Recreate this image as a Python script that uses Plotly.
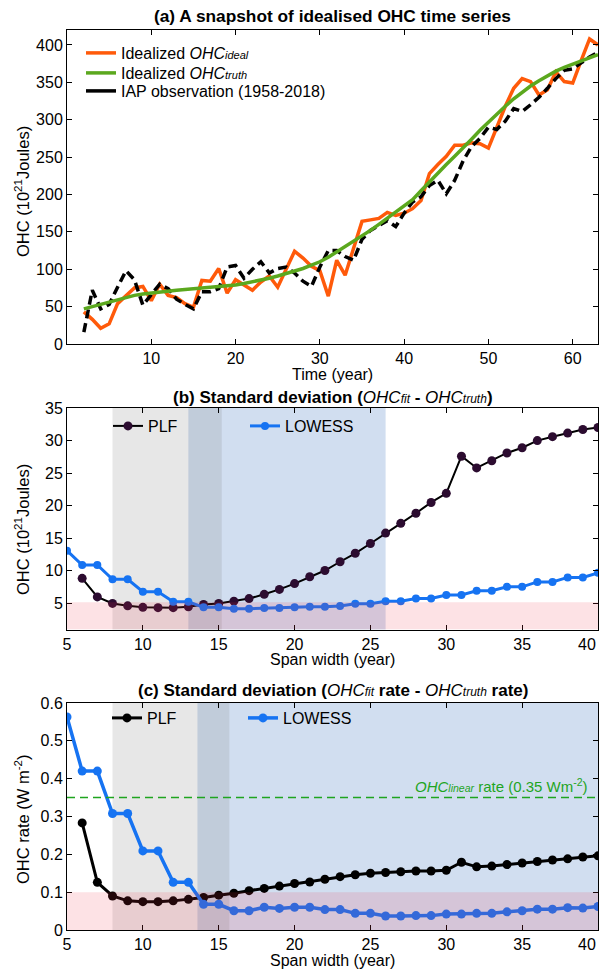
import plotly.graph_objects as go

# ---------------- data ----------------
# Panel (a): idealised OHC time series (10^21 J)
years = list(range(2, 64))
ohc_ideal = [43, 33, 21, 27, 54, 65, 75, 77, 58, 80,
             65, 62, 54, 49, 85, 84, 101, 68, 86, 79,
             72, 83, 91, 76, 101, 124, 115, 104, 98, 64,
             112, 92, 128, 164, 166, 168, 176, 172, 175, 181,
             192, 228, 240, 251, 266, 266, 269, 268, 262, 290,
             318, 342, 355, 351, 333, 340, 364, 351, 349, 379,
             408, 400]
ohc_truth = [47, 50, 53, 56, 60, 63, 65, 67, 68.5, 70,
             71, 72, 73, 74, 74.5, 75.5, 76.5, 77.5, 79, 81,
             83, 85.5, 88, 91, 94, 97.5, 101, 105.5, 110, 116,
             123, 130, 137, 144.5, 152, 160, 168, 176, 184, 193,
             205, 217, 229, 240, 251, 262, 274, 286, 297, 308,
             318, 328, 337, 345, 352, 359, 365, 370, 374, 378,
             382, 387]
ohc_iap = [16, 72, 47, 53, 76, 98, 86, 52, 66, 80,
           74, 60, 53, 47, 70, 70, 74, 103, 105, 88,
           100, 110, 95, 101, 103, 95, 84, 77, 103, 125,
           125, 117, 112, 140, 152, 158, 165, 157, 175, 190,
           197, 212, 219, 201, 219, 245, 264, 275, 290, 287,
           298, 315, 311, 320, 330, 342, 355, 366, 368, 376,
           384, 390]

# Panel (b): std of OHC_fit - OHC_truth vs span width
span_b_plf = list(range(6, 41))
std_b_plf = [8.85, 6.0, 5.0, 4.63, 4.4, 4.35, 4.35, 4.5, 4.85, 5.0,
             5.35, 5.75, 6.4, 7.15, 8.05, 9.1, 10.05, 11.4, 12.7, 14.2,
             15.8, 17.3, 18.85, 20.5, 21.9, 27.6, 25.8, 26.9, 28.1, 28.9,
             30.0, 30.6, 31.15, 31.7, 32.0]
span_b_lowess = list(range(5, 41))
std_b_lowess = [13.1, 10.9, 10.9, 8.7, 8.7, 6.8, 6.8, 5.25, 5.25, 4.4,
                4.4, 4.2, 4.2, 4.3, 4.3, 4.4, 4.5, 4.5, 4.6, 4.95,
                4.95, 5.35, 5.35, 5.75, 5.75, 6.3, 6.3, 6.95, 6.95, 7.55,
                7.55, 8.3, 8.3, 9.0, 9.0, 9.7]

# Panel (c): std of OHC_fit rate - OHC_truth rate vs span width
span_c_plf = list(range(6, 41))
std_c_plf = [0.283, 0.126, 0.09, 0.077, 0.075, 0.075, 0.077, 0.081, 0.086, 0.092,
             0.097, 0.104, 0.11, 0.116, 0.123, 0.127, 0.134, 0.141, 0.146, 0.15,
             0.152, 0.154, 0.156, 0.156, 0.158, 0.179, 0.167, 0.169, 0.173, 0.177,
             0.181, 0.185, 0.188, 0.193, 0.196]
span_c_lowess = list(range(5, 41))
std_c_lowess = [0.563, 0.42, 0.42, 0.308, 0.308, 0.209, 0.209, 0.126, 0.126, 0.068,
                0.068, 0.051, 0.051, 0.06, 0.057, 0.06, 0.06, 0.054, 0.054, 0.044,
                0.044, 0.037, 0.037, 0.038, 0.038, 0.042, 0.042, 0.044, 0.044, 0.048,
                0.051, 0.055, 0.055, 0.059, 0.058, 0.062]
linear_rate = 0.35

# tick labels
span_ticks = [5, 10, 15, 20, 25, 30, 35, 40]
span_ticktext = ['5', '10', '15', '20', '25', '30', '35', '']   # last label drawn shifted (fits in page)
last_span_label = '40'

# shaded ranges
b_gray = (8, 15.2)
b_blue = (13, 26)
b_pink = 5.2
c_gray = (8, 15.7)
c_blue = (13.6, 40)
c_pink = 0.1

# ---------------- styling ----------------
ORANGE = '#FF5A0A'
GREEN = '#5BA81E'
BLUE = '#1673F2'
PURPLE = '#2C0C30'
FONT = 'Liberation Sans, Arial, Helvetica, sans-serif'
W, H = 605, 969
ML, MR, MT, MB = 67, 7, 30, 39
PH = H - MT - MB
PW = W - ML - MR
TICK = 16


def py(p):
    return (H - MB - p) / PH


def pxx(p):
    return (p - ML) / PW


def sm(s, size=11):
    return f"<span style='font-size:{size}px'>{s}</span>"


fig = go.Figure()

# ---- panel (a)
fig.add_trace(go.Scatter(x=years, y=ohc_ideal, mode='lines',
                         line=dict(color=ORANGE, width=3.5),
                         name="Idealized <i>OHC" + sm('ideal') + "</i>",
                         legend='legend', xaxis='x', yaxis='y'))
fig.add_trace(go.Scatter(x=years, y=ohc_iap, mode='lines',
                         line=dict(color='black', width=3.5, dash='9px,5px'),
                         showlegend=False, xaxis='x', yaxis='y'))
fig.add_trace(go.Scatter(x=years, y=ohc_truth, mode='lines',
                         line=dict(color=GREEN, width=3.5),
                         name="Idealized <i>OHC" + sm('truth') + "</i>",
                         legend='legend6', xaxis='x', yaxis='y'))
fig.add_trace(go.Scatter(x=[None], y=[None], mode='lines',
                         line=dict(color='black', width=3.5),
                         name='IAP observation (1958-2018)',
                         legend='legend7', xaxis='x', yaxis='y'))

# ---- panel (b)
fig.add_trace(go.Scatter(x=span_b_plf, y=std_b_plf, mode='lines+markers',
                         line=dict(color='black', width=2),
                         marker=dict(color=PURPLE, size=9),
                         name='PLF', legend='legend2', xaxis='x2', yaxis='y2'))
fig.add_trace(go.Scatter(x=span_b_lowess, y=std_b_lowess, mode='lines+markers',
                         line=dict(color=BLUE, width=3),
                         marker=dict(color=BLUE, size=8),
                         name='LOWESS', legend='legend3', xaxis='x2', yaxis='y2'))

# ---- panel (c)
fig.add_trace(go.Scatter(x=span_c_plf, y=std_c_plf, mode='lines+markers',
                         line=dict(color='black', width=3),
                         marker=dict(color='black', size=9),
                         name='PLF', legend='legend4', xaxis='x3', yaxis='y3'))
fig.add_trace(go.Scatter(x=span_c_lowess, y=std_c_lowess, mode='lines+markers',
                         line=dict(color=BLUE, width=3.5),
                         marker=dict(color=BLUE, size=9),
                         name='LOWESS', legend='legend5', xaxis='x3', yaxis='y3'))

# ---------------- shapes ----------------
GRAY_FILL = 'rgba(120,120,120,0.18)'
BLUE_FILL = 'rgba(70,125,195,0.25)'
PINK_FILL = 'rgba(240,50,70,0.14)'
shapes = [
    dict(type='rect', xref='x2', yref='y2 domain', x0=b_blue[0], x1=b_blue[1], y0=0, y1=1,
         fillcolor=BLUE_FILL, line=dict(width=0), layer='below'),
    dict(type='rect', xref='x2', yref='y2 domain', x0=b_gray[0], x1=b_gray[1], y0=0, y1=1,
         fillcolor=GRAY_FILL, line=dict(width=0), layer='below'),
    dict(type='rect', xref='x2 domain', yref='y2', x0=0, x1=1, y0=1, y1=b_pink,
         fillcolor=PINK_FILL, line=dict(width=0), layer='above'),
    dict(type='rect', xref='x3', yref='y3 domain', x0=c_blue[0], x1=c_blue[1], y0=0, y1=1,
         fillcolor=BLUE_FILL, line=dict(width=0), layer='below'),
    dict(type='rect', xref='x3', yref='y3 domain', x0=c_gray[0], x1=c_gray[1], y0=0, y1=1,
         fillcolor=GRAY_FILL, line=dict(width=0), layer='below'),
    dict(type='rect', xref='x3 domain', yref='y3', x0=0, x1=1, y0=0, y1=c_pink,
         fillcolor=PINK_FILL, line=dict(width=0), layer='above'),
    dict(type='line', xref='x3 domain', yref='y3', x0=0, x1=1, y0=linear_rate, y1=linear_rate,
         line=dict(color='#1FA51F', width=1.5, dash='8px,5px'), layer='above'),
]

# ---------------- annotations ----------------
def ann(text, x, y, size=17, angle=0, xanchor='center', color='black', xref='paper'):
    return dict(text=text, x=x, y=y, xref=xref, yref='paper', showarrow=False,
                xanchor=xanchor, yanchor='middle', textangle=angle,
                font=dict(family=FONT, size=size, color=color))


annotations = [
    ann('<b>(a) A snapshot of idealised OHC time series</b>', 0.5, py(16), size=17.3),
    ann("<b>(b) Standard deviation (</b><i>OHC" + sm('fit', 12) + "</i><b> - </b><i>OHC"
        + sm('truth', 12) + "</i><b>)</b>", 0.5, py(397)),
    ann("<b>(c) Standard deviation (</b><i>OHC" + sm('fit', 12) + "</i><b> rate - </b><i>OHC"
        + sm('truth', 12) + "</i><b> rate)</b>", 0.5, py(690)),
    ann('Time (year)', 0.5, py(374), size=16),
    ann('Span width (year)', 0.5, py(659), size=16),
    ann('Span width (year)', 0.5, py(960), size=16),
    ann('OHC (10<sup>21</sup>Joules)', pxx(22), py(192), size=16.5, angle=-90),
    ann('OHC (10<sup>21</sup>Joules)', pxx(22), py(530), size=16.5, angle=-90),
    ann('OHC rate (W m<sup>-2</sup>)', pxx(22), py(820), size=16.5, angle=-90),
    ann("<i>OHC" + sm('linear', 10.5) + "</i> rate (0.35 Wm<sup>-2</sup>)", pxx(590), py(785),
        size=15, xanchor='right', color='#1FA51F'),
    ann(last_span_label, span_ticks[-1], py(644), size=TICK, xanchor='right', xref='x2'),
    ann(last_span_label, span_ticks[-1], py(944), size=TICK, xanchor='right', xref='x3'),
]

# ---------------- axes ----------------
def axis(**kw):
    base = dict(showline=True, linecolor='black', linewidth=1, mirror='ticks',
                ticks='inside', ticklen=5, tickwidth=1, tickcolor='black',
                showgrid=False, zeroline=False, ticklabeloverflow='allow',
                automargin=False,
                tickfont=dict(family=FONT, size=TICK, color='black'))
    base.update(kw)
    return base


def legend(x, y):
    return dict(x=x, y=y, xanchor='left', yanchor='top', bgcolor='rgba(0,0,0,0)',
                font=dict(family=FONT, size=16, color='black'), tracegroupgap=0)


fig.update_layout(
    width=W, height=H,
    margin=dict(l=ML, r=MR, t=MT, b=MB, autoexpand=False),
    paper_bgcolor='white', plot_bgcolor='white',
    font=dict(family=FONT, size=16, color='black'),
    xaxis=axis(domain=[0, 1], anchor='y', range=[0, 63], tickvals=[10, 20, 30, 40, 50, 60]),
    yaxis=axis(domain=[py(344), 1], anchor='x', range=[0, 420], tickvals=list(range(0, 401, 50))),
    xaxis2=axis(domain=[0, 1], anchor='y2', range=[5, 40], tickvals=span_ticks, ticktext=span_ticktext),
    yaxis2=axis(domain=[py(629.5), py(408)], anchor='x2', range=[1, 35], tickvals=list(range(5, 36, 5))),
    xaxis3=axis(domain=[0, 1], anchor='y3', range=[5, 40], tickvals=span_ticks, ticktext=span_ticktext),
    yaxis3=axis(domain=[0, py(703)], anchor='x3', range=[0, 0.6],
                tickvals=[0, 0.1, 0.2, 0.3, 0.4, 0.5, 0.6],
                ticktext=['0', '0.1', '0.2', '0.3', '0.4', '0.5', '0.6']),
    legend=legend(pxx(81), py(36)),
    legend6=legend(pxx(81), py(56)),
    legend7=legend(pxx(81), py(74)),
    legend2=legend(pxx(108), py(409)),
    legend3=legend(pxx(245), py(409)),
    legend4=legend(pxx(107), py(701)),
    legend5=legend(pxx(243), py(701)),
    shapes=shapes,
    annotations=annotations,
    showlegend=True,
)

fig.write_html('out.html')
